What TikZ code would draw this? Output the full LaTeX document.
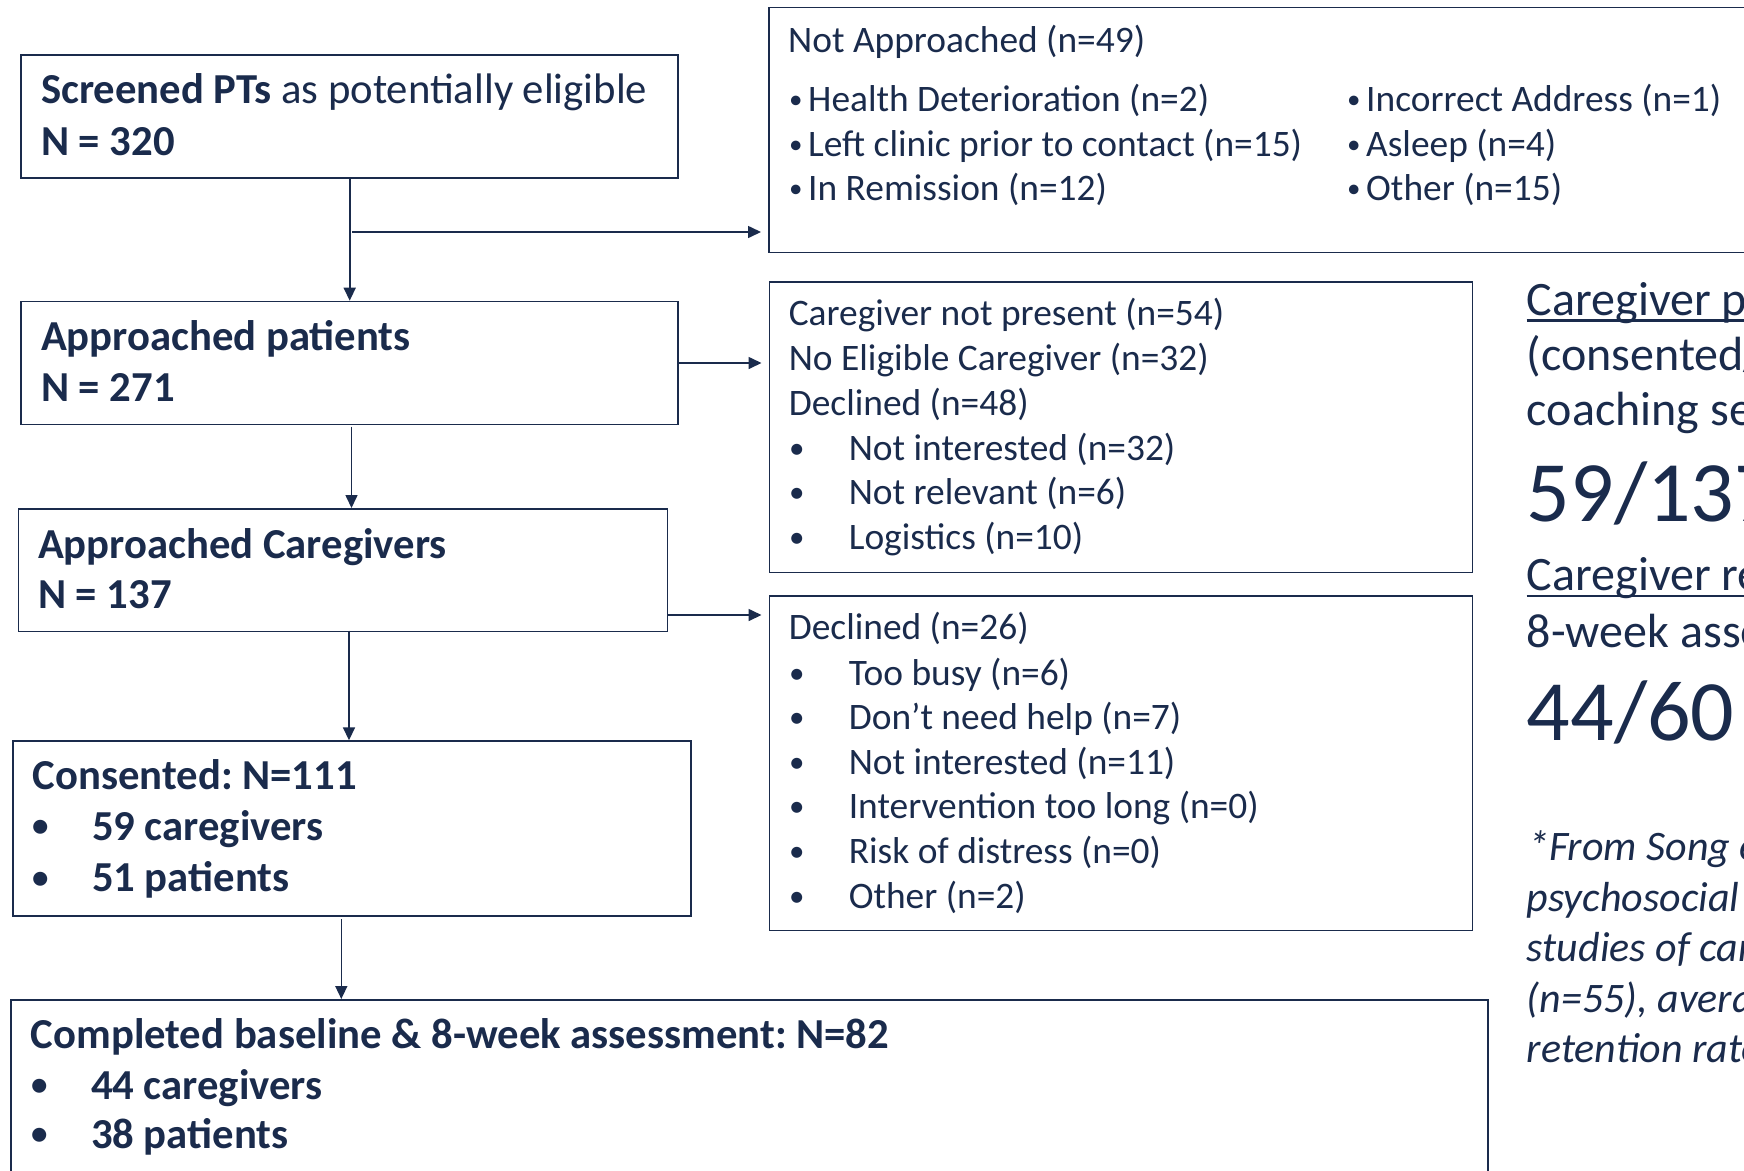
\documentclass[tikz,border=0pt]{standalone}
\usepackage{fontspec}
\setmainfont{Carlito}
\usetikzlibrary{arrows.meta}
\definecolor{navy}{HTML}{1A2B4C}
\newcommand\fzA{\fontsize{37.4}{44}\selectfont}
\newcommand\fzB{\fontsize{42.7}{50}\selectfont\bfseries}
\newcommand\fzC{\fontsize{48}{57}\selectfont}
\newcommand\fzD{\fontsize{86}{100}\selectfont}
\newcommand\fzE{\fontsize{42}{50}\selectfont\itshape}
\newcommand\fzS{\fontsize{27}{30}\selectfont}
\newcommand\fzT{\fontsize{31}{34}\selectfont}
\newcommand\fzU{\fontsize{33}{36}\selectfont\bfseries}
\frenchspacing
\begin{document}
\begin{tikzpicture}[x=1pt,y=-1pt,
  box/.style={draw=navy, line width=1.6pt, anchor=north west, inner sep=0pt, fill=none},
  arr/.style={draw=navy, line width=1.6pt, -{Triangle[length=13pt,width=12pt]}},
  txt/.style={anchor=base west, inner sep=0pt, text=navy, font=\fzA},
  btx/.style={anchor=base west, inner sep=0pt, text=navy, font=\fzB},
  rtx/.style={anchor=base west, inner sep=0pt, text=navy, font=\fzC},
  big/.style={anchor=base west, inner sep=0pt, text=navy, font=\fzD},
  itx/.style={anchor=base west, inner sep=0pt, text=navy, font=\fzE},
  bs/.style={anchor=base west, inner sep=0pt, text=navy, font=\fzS},
  bm/.style={anchor=base west, inner sep=0pt, text=navy, font=\fzT},
  bb/.style={anchor=base west, inner sep=0pt, text=navy, font=\fzU}]
\useasboundingbox (0,0) rectangle (1744,1170);
\fill[white] (0,0) rectangle (1744,1170);
\clip (0,0) rectangle (1744,1170);

% boxes
\node[box, minimum width=657pt, minimum height=123pt] (b1) at (20.4,54) {};
\node[box, minimum width=657pt, minimum height=123pt] (b2) at (20.4,300.7) {};
\node[box, minimum width=649pt, minimum height=122.6pt] (b3) at (17.8,508) {};
\node[box, minimum width=678pt, minimum height=175pt] (b4) at (12.2,740.3) {};
\node[box, minimum width=1477pt, minimum height=220pt] (b5) at (10.2,999) {};
\node[box, minimum width=1040pt, minimum height=245pt] (na) at (768,6.7) {};
\node[box, minimum width=703pt, minimum height=290.3pt] (cg) at (768.5,281.4) {};
\node[box, minimum width=703pt, minimum height=334.8pt] (dc) at (768.5,595) {};

% connectors
\draw[arr] (b1.south) -- (b1.south |- b2.north);
\coordinate (br) at (352,232);
\draw[arr, shorten >=7pt] (br) -- (br -| na.west);
\draw[arr, shorten >=7pt] (b2.east) -- (b2.east -| cg.west);
\coordinate (c2) at (351.5,426.7);
\draw[arr] (c2) -- (c2 |- b3.north);
\coordinate (c3) at (667,615);
\draw[arr, shorten >=7pt] (c3) -- (c3 -| dc.west);
\coordinate (c3b) at (349,630.6);
\draw[arr] (c3b) -- (c3b |- b4.north);
\coordinate (c4) at (341.3,919.3);
\draw[arr] (c4) -- (c4 |- b5.north);

% box 1
\node[btx] (t1a) at (40.8,103) {Screened PTs \mdseries as potentially eligible};
\node[btx] (t1b) at (40.8,155) {N = 320};
% box 2
\node[btx] (t2a) at (40.8,350.7) {Approached patients};
\node[btx] (t2b) at (40.8,401.7) {N = 271};
% box 3
\node[btx] (t3a) at (37.8,558.5) {Approached Caregivers};
\node[btx] (t3b) at (37.8,608.5) {N = 137};
% box 4
\node[btx] (t4a) at (32.7,789) {Consented: N=111};
\node[bb] (t4b) at (32,836.5) {•};
\node[btx] (t4c) at (91.8,840) {59 caregivers};
\node[bb] (t4d) at (32,888.2) {•};
\node[btx] (t4e) at (91.8,891.7) {51 patients};
% box 5
\node[btx] (t5a) at (30.6,1048) {Completed baseline \& 8-week assessment: N=82};
\node[bb] (t5b) at (31,1095.5) {•};
\node[btx] (t5c) at (90.8,1099) {44 caregivers};
\node[bb] (t5d) at (31,1144.5) {•};
\node[btx] (t5e) at (90.8,1148) {38 patients};

% not approached
\node[txt] (n0) at (788,52) {Not Approached (n=49)};
\node[bs] (n1b) at (789,108.7) {•};
\node[txt] (n1) at (808,111.7) {Health Deterioration (n=2)};
\node[bs] (n2b) at (789,153.7) {•};
\node[txt] (n2) at (808,156.7) {Left clinic prior to contact (n=15)};
\node[bs] (n3b) at (789,197) {•};
\node[txt] (n3) at (808,200) {In Remission (n=12)};
\node[bs] (n4b) at (1347,108.7) {•};
\node[txt] (n4) at (1366,111.7) {Incorrect Address (n=1)};
\node[bs] (n5b) at (1347,153.7) {•};
\node[txt] (n5) at (1366,156.7) {Asleep (n=4)};
\node[bs] (n6b) at (1347,197) {•};
\node[txt] (n6) at (1366,200) {Other (n=15)};

% caregiver box
\node[txt] (g1) at (788.6,325.6) {Caregiver not present (n=54)};
\node[txt] (g2) at (788.6,370) {No Eligible Caregiver (n=32)};
\node[txt] (g3) at (788.6,415.7) {Declined (n=48)};
\node[bm] (g4b) at (789,458) {•};
\node[txt] (g4) at (848.6,460) {Not interested (n=32)};
\node[bm] (g5b) at (789,502.7) {•};
\node[txt] (g5) at (848.6,504.7) {Not relevant (n=6)};
\node[bm] (g6b) at (789,547) {•};
\node[txt] (g6) at (848.6,549) {Logistics (n=10)};

% declined box
\node[txt] (d0) at (788.6,639) {Declined (n=26)};
\node[bm] (d1b) at (789,683) {•};
\node[txt] (d1) at (848.6,685) {Too busy (n=6)};
\node[bm] (d2b) at (789,727) {•};
\node[txt] (d2) at (848.6,729) {Don’t need help (n=7)};
\node[bm] (d3b) at (789,772) {•};
\node[txt] (d3) at (848.6,774) {Not interested (n=11)};
\node[bm] (d4b) at (789,816.5) {•};
\node[txt] (d4) at (848.6,818.5) {Intervention too long (n=0)};
\node[bm] (d5b) at (789,861) {•};
\node[txt] (d5) at (848.6,863) {Risk of distress (n=0)};
\node[bm] (d6b) at (789,906) {•};
\node[txt] (d6) at (848.6,908) {Other (n=2)};

% right panel
\node[rtx] (r1) at (1526.7,315) {Caregiver participation rate};
\draw[navy, line width=2.6pt] (1526.7,320.5) -- (1760,320.5);
\node[rtx] (r2) at (1526.7,370) {(consented/approached to};
\node[rtx] (r3) at (1526.7,425) {coaching sessions)};
\node[big] (r4) at (1526.7,521.7) {59/137};
\node[rtx] (r5) at (1526.7,590) {Caregiver retention rate};
\draw[navy, line width=2.6pt] (1526.7,596) -- (1760,596);
\node[rtx] (r6) at (1526.7,647) {8-week assessment};
\node[big] (r7) at (1526.7,740) {44/60};
\node[itx] (i1) at (1528,860) {*From Song et al.};
\node[itx] (i2) at (1526.7,911) {psychosocial};
\node[itx] (i3) at (1526.7,961) {studies of caregivers};
\node[itx] (i4) at (1526.7,1012) {(n=55), average};
\node[itx] (i5) at (1526.7,1062) {retention rate};
\end{tikzpicture}
\end{document}
